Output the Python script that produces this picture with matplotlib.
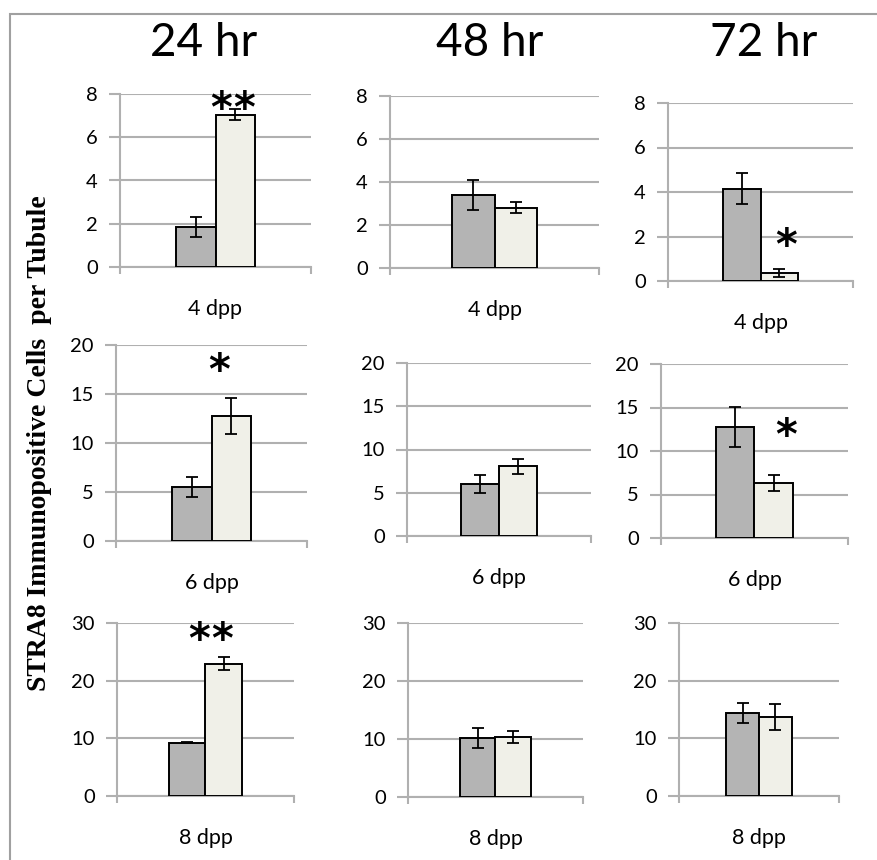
import matplotlib
matplotlib.use("Agg")
import matplotlib.pyplot as plt
from matplotlib.patches import Rectangle

plt.rcParams['font.family'] = ['Lato', 'DejaVu Sans']

times = ["24 hr", "48 hr", "72 hr"]
stages = ["4 dpp", "6 dpp", "8 dpp"]

# rows = stage, columns = time point
ctrl_4dpp = [1.85, 3.4, 4.15]
ctrl_4dpp_err = [0.45, 0.7, 0.7]
treat_4dpp = [7.05, 2.8, 0.37]
treat_4dpp_err = [0.25, 0.25, 0.17]

ctrl_6dpp = [5.5, 6.05, 12.75]
ctrl_6dpp_err = [1.0, 1.05, 2.3]
treat_6dpp = [12.75, 8.05, 6.3]
treat_6dpp_err = [1.8, 0.85, 0.9]

ctrl_8dpp = [9.25, 10.2, 14.35]
ctrl_8dpp_err = [0.1, 1.7, 1.75]
treat_8dpp = [22.95, 10.3, 13.7]
treat_8dpp_err = [1.15, 1.0, 2.25]

y_max = [8, 20, 30]
y_step = [2, 5, 10]

# significance marks: (row, col) -> (count, x, y)
stars = {(0, 0): (2, 0.09, 7.25), (0, 2): (1, 0.14, 1.55),
         (1, 0): (1, 0.04, 17.2), (1, 2): (1, 0.17, 11.65),
         (2, 0): (2, 0.03, 26.9)}

ctrl = [ctrl_4dpp, ctrl_6dpp, ctrl_8dpp]
ctrl_err = [ctrl_4dpp_err, ctrl_6dpp_err, ctrl_8dpp_err]
treat = [treat_4dpp, treat_6dpp, treat_8dpp]
treat_err = [treat_4dpp_err, treat_6dpp_err, treat_8dpp_err]

W, H = 878, 860
# panel boxes in pixels: left, top, right, bottom
boxes = [[(120, 94, 311, 267), (390, 96, 599, 268), (668, 103, 853, 281)],
         [(116, 345, 307, 541), (407, 363, 591, 536), (661, 364, 848, 538)],
         [(117, 623, 294, 796), (408, 623, 583, 797), (679, 623, 839, 796)]]
title_x = [204, 490, 764]

fig = plt.figure(figsize=(W / 100, H / 100), dpi=100)
fig.patches.append(Rectangle((10 / W, -0.05), 1.1, 1.05 - 14 / H,
                             transform=fig.transFigure, fill=False,
                             edgecolor="#a0a0a0", linewidth=1.5))

grid_c = "#b0b0b0"
bw = 0.205
for r in range(3):
    for c in range(3):
        l, t, rt, b = boxes[r][c]
        ax = fig.add_axes([l / W, 1 - b / H, (rt - l) / W, (b - t) / H])
        ax.bar(-bw / 2, ctrl[r][c], bw, color="#b4b4b4", edgecolor="black", linewidth=1.4, zorder=3)
        ax.bar(bw / 2, treat[r][c], bw, color="#f0f0e8", edgecolor="black", linewidth=1.4, zorder=3)
        ax.errorbar([-bw / 2, bw / 2], [ctrl[r][c], treat[r][c]],
                    yerr=[ctrl_err[r][c], treat_err[r][c]], fmt="none",
                    ecolor="black", elinewidth=1.3, capsize=4.5, capthick=1.3, zorder=4)
        ax.set_xlim(-0.5, 0.5)
        ax.set_ylim(0, y_max[r])
        ax.set_yticks(range(0, y_max[r] + 1, y_step[r]))
        ax.yaxis.grid(True, color=grid_c, linewidth=1.5, zorder=0)
        ax.set_axisbelow(True)
        for s in ["top", "right"]:
            ax.spines[s].set_visible(False)
        for s in ["left", "bottom"]:
            ax.spines[s].set_color(grid_c)
            ax.spines[s].set_linewidth(1.5)
        ax.set_xticks([0])
        ax.set_xticklabels([stages[r]])
        ax.set_xticks([-0.5, 0.5], minor=True)
        ax.tick_params(axis="x", which="major", length=0, pad=23, labelsize=15.5)
        ax.tick_params(axis="x", which="minor", length=5, color=grid_c, width=1.5)
        ax.tick_params(axis="y", length=8, width=1.5, color=grid_c, pad=8, labelsize=14.5)
        if (r, c) in stars:
            n, sx, sy = stars[(r, c)]
            sep = 0.12 * 191 / (rt - l)
            offs = [0.0] if n == 1 else [-sep / 2, sep / 2]
            for o in offs:
                ax.text(sx + o, sy, "*", ha="center", va="center", fontsize=30,
                        family="DejaVu Sans", weight="bold", zorder=5)
        if r == 0:
            fig.text(title_x[c] / W, 1 - 43 / H, times[c], ha="center",
                     va="center", fontsize=33)

fig.text(40 / W, 1 - 443 / H, "STRA8 Immunopositive Cells  per Tubule",
         rotation=90, ha="center", va="center", fontsize=20,
         family="Liberation Serif", weight="bold")

fig.savefig("out.png", dpi=100)
